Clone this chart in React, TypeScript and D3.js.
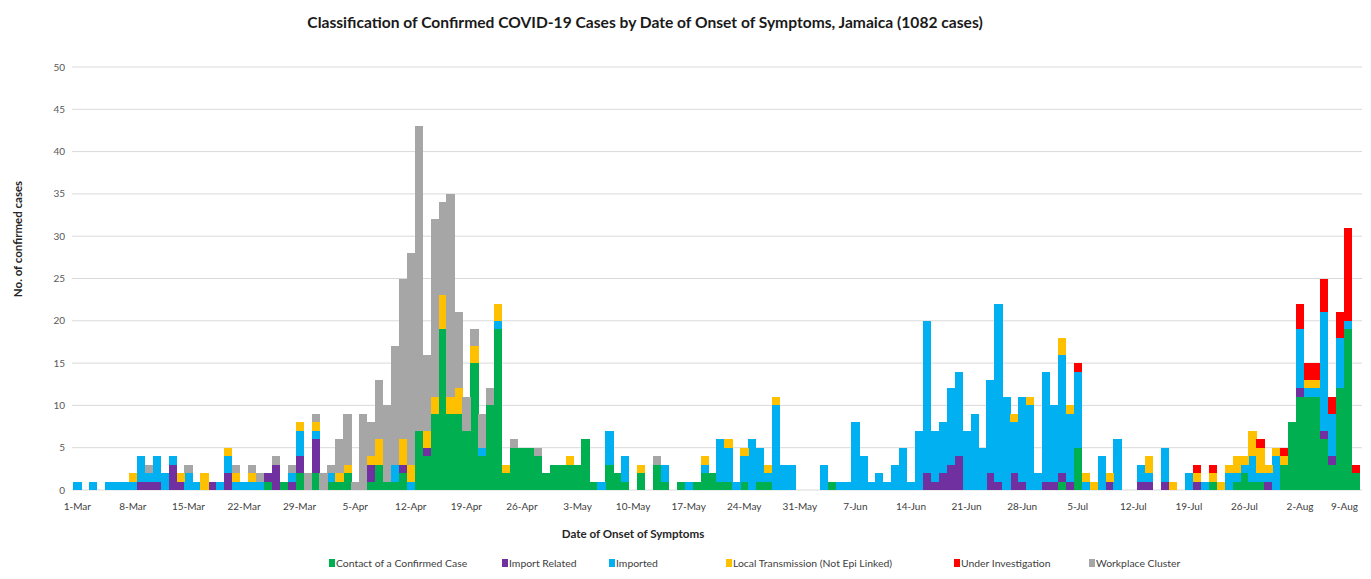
import React from "react";
import * as d3 from "d3";

// daily counts, 1-Mar .. 9-Aug (162 days)
const contact = [
  0, 0, 0, 0, 0, 0, 0, 0, 0, 0,
  0, 0, 0, 0, 0, 0, 0, 0, 0, 0,
  0, 0, 0, 0, 1, 0, 1, 0, 2, 0,
  2, 0, 1, 1, 2, 0, 0, 1, 3, 1,
  1, 2, 0, 7, 4, 9, 19, 9, 9, 7,
  15, 4, 10, 19, 2, 5, 5, 5, 4, 2,
  3, 3, 3, 3, 6, 1, 0, 3, 2, 1,
  0, 2, 0, 3, 1, 0, 1, 0, 1, 2,
  2, 1, 1, 0, 1, 0, 1, 1, 0, 0,
  0, 0, 0, 0, 0, 1, 0, 0, 0, 0,
  0, 0, 0, 0, 0, 0, 0, 0, 0, 0,
  0, 0, 0, 0, 0, 0, 0, 0, 0, 0,
  0, 0, 0, 0, 1, 0, 5, 0, 0, 0,
  0, 0, 0, 0, 0, 0, 0, 0, 0, 0,
  0, 0, 0, 1, 0, 0, 1, 2, 1, 1,
  0, 0, 3, 8, 11, 11, 11, 6, 3, 12,
  19, 2,
];
const importRelated = [
  0, 0, 0, 0, 0, 0, 0, 0, 1, 1,
  1, 0, 3, 1, 0, 0, 0, 1, 0, 2,
  0, 0, 0, 0, 1, 3, 0, 1, 2, 0,
  4, 0, 0, 0, 0, 0, 0, 2, 0, 0,
  0, 1, 0, 0, 1, 0, 0, 0, 0, 0,
  0, 0, 0, 0, 0, 0, 0, 0, 0, 0,
  0, 0, 0, 0, 0, 0, 0, 0, 0, 0,
  0, 0, 0, 0, 0, 0, 0, 0, 0, 0,
  0, 0, 0, 0, 0, 0, 0, 0, 0, 0,
  0, 0, 0, 0, 0, 0, 0, 0, 0, 0,
  0, 0, 0, 0, 0, 0, 0, 2, 1, 2,
  3, 4, 0, 0, 0, 2, 1, 0, 2, 1,
  0, 0, 1, 1, 1, 1, 0, 0, 0, 0,
  1, 0, 0, 0, 1, 1, 0, 1, 0, 0,
  0, 1, 0, 0, 0, 0, 0, 0, 0, 0,
  1, 0, 0, 0, 1, 0, 0, 1, 1, 0,
  0, 0,
];
const imported = [
  1, 0, 1, 0, 1, 1, 1, 1, 3, 1,
  3, 2, 1, 0, 2, 1, 0, 0, 1, 2,
  1, 1, 1, 1, 0, 0, 0, 1, 3, 0,
  1, 0, 1, 0, 0, 0, 0, 0, 0, 0,
  2, 0, 1, 0, 0, 0, 0, 0, 0, 0,
  0, 1, 0, 1, 0, 0, 0, 0, 0, 0,
  0, 0, 0, 0, 0, 0, 1, 4, 0, 3,
  0, 0, 0, 0, 2, 0, 0, 1, 0, 1,
  0, 5, 4, 1, 3, 6, 4, 1, 10, 3,
  3, 0, 0, 0, 3, 0, 1, 1, 8, 4,
  1, 2, 1, 3, 5, 1, 7, 18, 6, 6,
  9, 10, 7, 9, 5, 11, 21, 11, 6, 10,
  10, 2, 13, 9, 14, 8, 9, 1, 0, 4,
  0, 6, 0, 0, 2, 1, 0, 4, 0, 0,
  2, 0, 1, 0, 0, 2, 1, 1, 3, 1,
  1, 4, 0, 0, 7, 1, 1, 14, 5, 6,
  1, 0,
];
const localTransmission = [
  0, 0, 0, 0, 0, 0, 0, 1, 0, 0,
  0, 0, 0, 1, 0, 0, 2, 0, 0, 1,
  1, 0, 1, 0, 0, 0, 0, 0, 1, 0,
  1, 0, 0, 1, 1, 0, 0, 1, 3, 0,
  0, 3, 2, 0, 2, 2, 4, 2, 3, 0,
  2, 0, 0, 2, 1, 0, 0, 0, 0, 0,
  0, 0, 1, 0, 0, 0, 0, 0, 0, 0,
  0, 1, 0, 0, 0, 0, 0, 0, 0, 1,
  0, 0, 1, 0, 1, 0, 0, 1, 1, 0,
  0, 0, 0, 0, 0, 0, 0, 0, 0, 0,
  0, 0, 0, 0, 0, 0, 0, 0, 0, 0,
  0, 0, 0, 0, 0, 0, 0, 0, 1, 0,
  1, 0, 0, 0, 2, 1, 0, 1, 1, 0,
  1, 0, 0, 0, 0, 2, 0, 0, 1, 0,
  0, 1, 0, 1, 1, 1, 2, 1, 3, 3,
  1, 1, 1, 0, 0, 1, 1, 0, 0, 0,
  0, 0,
];
const underInvestigation = [
  0, 0, 0, 0, 0, 0, 0, 0, 0, 0,
  0, 0, 0, 0, 0, 0, 0, 0, 0, 0,
  0, 0, 0, 0, 0, 0, 0, 0, 0, 0,
  0, 0, 0, 0, 0, 0, 0, 0, 0, 0,
  0, 0, 0, 0, 0, 0, 0, 0, 0, 0,
  0, 0, 0, 0, 0, 0, 0, 0, 0, 0,
  0, 0, 0, 0, 0, 0, 0, 0, 0, 0,
  0, 0, 0, 0, 0, 0, 0, 0, 0, 0,
  0, 0, 0, 0, 0, 0, 0, 0, 0, 0,
  0, 0, 0, 0, 0, 0, 0, 0, 0, 0,
  0, 0, 0, 0, 0, 0, 0, 0, 0, 0,
  0, 0, 0, 0, 0, 0, 0, 0, 0, 0,
  0, 0, 0, 0, 0, 0, 1, 0, 0, 0,
  0, 0, 0, 0, 0, 0, 0, 0, 0, 0,
  0, 1, 0, 1, 0, 0, 0, 0, 0, 1,
  0, 0, 1, 0, 3, 2, 2, 4, 2, 3,
  11, 1,
];
const workplaceCluster = [
  0, 0, 0, 0, 0, 0, 0, 0, 0, 1,
  0, 0, 0, 0, 1, 0, 0, 0, 0, 0,
  1, 0, 1, 1, 0, 1, 0, 1, 0, 2,
  1, 2, 1, 4, 6, 1, 9, 4, 7, 9,
  14, 19, 25, 36, 9, 21, 11, 24, 9, 4,
  2, 4, 2, 0, 0, 1, 0, 0, 1, 0,
  0, 0, 0, 0, 0, 0, 0, 0, 0, 0,
  0, 0, 0, 1, 0, 0, 0, 0, 0, 0,
  0, 0, 0, 0, 0, 0, 0, 0, 0, 0,
  0, 0, 0, 0, 0, 0, 0, 0, 0, 0,
  0, 0, 0, 0, 0, 0, 0, 0, 0, 0,
  0, 0, 0, 0, 0, 0, 0, 0, 0, 0,
  0, 0, 0, 0, 0, 0, 0, 0, 0, 0,
  0, 0, 0, 0, 0, 0, 0, 0, 0, 0,
  0, 0, 0, 0, 0, 0, 0, 0, 0, 0,
  0, 0, 0, 0, 0, 0, 0, 0, 0, 0,
  0, 0,
];

const seriesNames = [
  "Contact of a Confirmed Case",
  "Import Related",
  "Imported",
  "Local Transmission (Not Epi Linked)",
  "Under Investigation",
  "Workplace Cluster",
];
const seriesColors = ["#00B050", "#7030A0", "#00B0F0", "#FFC000", "#FF0000", "#A6A6A6"];
const seriesValues = [contact, importRelated, imported, localTransmission, underInvestigation, workplaceCluster];
const yTicks = [0, 5, 10, 15, 20, 25, 30, 35, 40, 45, 50];

const days = d3.timeDay.range(new Date(2020, 2, 1), new Date(2020, 7, 10));
const fmt = d3.timeFormat("%-d-%b");

const W = 1371;
const H = 579;
const font = "Lato, 'Open Sans', sans-serif";

export default function App() {
  const rows = days.map((d, i) => {
    const r: any = { i };
    seriesNames.forEach((k, j) => (r[k] = seriesValues[j][i]));
    return r;
  });
  const stacked = d3.stack().keys(seriesNames)(rows);

  const x = d3.scaleBand<number>().domain(d3.range(days.length)).range([73.3, 1359.6]).padding(0);
  const y = d3.scaleLinear().domain([0, 50]).range([490, 67]);

  const legendX = [329, 502, 609, 726, 954, 1089];

  return (
    <svg width={W} height={H} style={{ position: "absolute", left: 0, top: 0, background: "#fff" }}>
      <text x={645} y={28} textAnchor="middle" fontFamily={font} fontWeight="bold" fontSize={15.6} fill="#1a1a1a">
        Classification of Confirmed COVID-19 Cases by Date of Onset of Symptoms, Jamaica (1082 cases)
      </text>

      {yTicks.map((t) => (
        <g key={t}>
          <line x1={72} x2={1362} y1={y(t)} y2={y(t)} stroke="#d9d9d9" strokeWidth={1} />
          <text x={65} y={y(t) + 3.5} textAnchor="end" fontFamily={font} fontSize={10} fill="#595959">
            {t}
          </text>
        </g>
      ))}

      {stacked.map((s, j) => (
        <g key={s.key} fill={seriesColors[j]}>
          {s.map((d, i) =>
            d[1] - d[0] > 0 ? (
              <rect
                key={i}
                x={x(i)}
                y={y(d[1])}
                width={x.bandwidth() + 0.3}
                height={y(d[0]) - y(d[1])}
                shapeRendering="crispEdges"
              />
            ) : null
          )}
        </g>
      ))}

      {days.map((d, i) =>
        i % 7 === 0 ? (
          <text
            key={i}
            x={i === days.length - 1 ? 1358 : (x(i) as number) + x.bandwidth() / 2}
            y={510}
            textAnchor={i === days.length - 1 ? "end" : "middle"}
            fontFamily={font}
            fontSize={10}
            fill="#404040"
          >
            {fmt(d)}
          </text>
        ) : null
      )}

      <text x={633} y={538} textAnchor="middle" fontFamily={font} fontWeight="bold" fontSize={11.6} fill="#262626">
        Date of  Onset of Symptoms
      </text>
      <text
        transform="translate(22,239) rotate(-90)"
        textAnchor="middle"
        fontFamily={font}
        fontWeight="bold"
        fontSize={11.5}
        fill="#262626"
      >
        No. of confirmed cases
      </text>

      {seriesNames.map((n, j) => (
        <g key={n} transform={`translate(${legendX[j]},564)`}>
          <rect x={0} y={-5} width={6} height={8} fill={seriesColors[j]} />
          <text x={7} y={3} fontFamily={font} fontSize={10.4} fill="#404040">
            {n}
          </text>
        </g>
      ))}
    </svg>
  );
}
